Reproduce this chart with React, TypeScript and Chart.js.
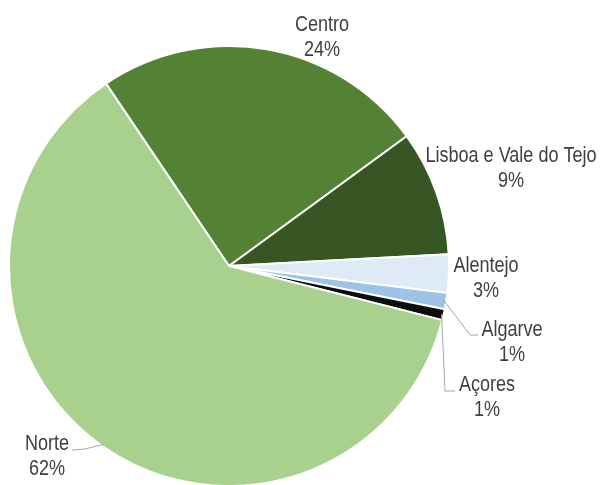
import React, { useEffect, useRef } from "react";
import { Chart, registerables } from "chart.js";

Chart.register(...registerables);

const regions = ["Centro", "Lisboa e Vale do Tejo", "Alentejo", "Algarve", "Açores", "Norte"];
const shares = [24.4, 9.2, 2.8, 1.2, 0.8, 61.6];
const sliceColors = ["#548235", "#375623", "#DEEBF7", "#9DC3E6", "#0D0D0D", "#A9D18E"];

// label baseline offsets (relative to pie centre) – styling only
const labelOffsets: [number, number][] = [
  [93, -235],
  [282, -104],
  [257, 6],
  [283, 70],
  [258, 125],
  [-182, 184],
];
const leaderPaths: ([number, number][] | null)[] = [
  null,
  null,
  null,
  [[241, 69], [249, 69]],
  [[216, 125], [226, 125]],
  [[-144, 183], [-157, 184]],
];

const FONT = '22px "Liberation Sans", Arial, sans-serif';
const NARROW = 0.82;

function narrowText(ctx: CanvasRenderingContext2D, text: string, x: number, y: number) {
  ctx.save();
  ctx.translate(x, y);
  ctx.scale(NARROW, 1);
  ctx.fillText(text, 0, 0);
  ctx.restore();
}

const labelPlugin = {
  id: "pieLabels",
  afterDatasetsDraw(chart: any) {
    const ctx = chart.ctx as CanvasRenderingContext2D;
    const meta = chart.getDatasetMeta(0);
    const data = chart.data.datasets[0].data as number[];
    const total = data.reduce((a, b) => a + b, 0);
    ctx.save();
    meta.data.forEach((arc: any, i: number) => {
      const p = arc.getProps(["x", "y", "startAngle", "endAngle", "outerRadius"], true);
      const cx = p.x, cy = p.y;
      const mid = (p.startAngle + p.endAngle) / 2;
      const path = leaderPaths[i];
      if (path) {
        const r = p.outerRadius - 2;
        ctx.beginPath();
        ctx.strokeStyle = "#A6A6A6";
        ctx.lineWidth = 1;
        ctx.moveTo(cx + Math.cos(mid) * r, cy + Math.sin(mid) * r);
        path.forEach(([dx, dy]) => ctx.lineTo(cx + dx, cy + dy));
        ctx.stroke();
      }
      const [ox, oy] = labelOffsets[i];
      ctx.fillStyle = "#404040";
      ctx.font = FONT;
      ctx.textAlign = "center";
      ctx.textBaseline = "alphabetic";
      narrowText(ctx, String(chart.data.labels[i]), cx + ox, cy + oy);
      narrowText(ctx, Math.round((data[i] / total) * 100) + "%", cx + ox, cy + oy + 24.5);
    });
    ctx.restore();
  },
};

export default function App() {
  const ref = useRef<HTMLCanvasElement | null>(null);
  useEffect(() => {
    document.body.style.margin = "0";
    const chart = new Chart(ref.current as HTMLCanvasElement, {
      type: "pie",
      data: {
        labels: regions,
        datasets: [
          {
            data: shares,
            backgroundColor: sliceColors,
            borderColor: "#FFFFFF",
            borderWidth: 2,
            radius: 220,
          } as any,
        ],
      },
      options: {
        responsive: false,
        animation: false,
        rotation: -34,
        layout: { padding: { left: 10, right: 153, top: 47, bottom: 0 } },
        plugins: { legend: { display: false }, tooltip: { enabled: false } },
      },
      plugins: [labelPlugin],
    });
    return () => chart.destroy();
  }, []);
  return (
    <div style={{ position: "absolute", left: 0, top: 0, width: 601, height: 485, background: "#fff" }}>
      <canvas ref={ref} width={601} height={485} />
    </div>
  );
}
